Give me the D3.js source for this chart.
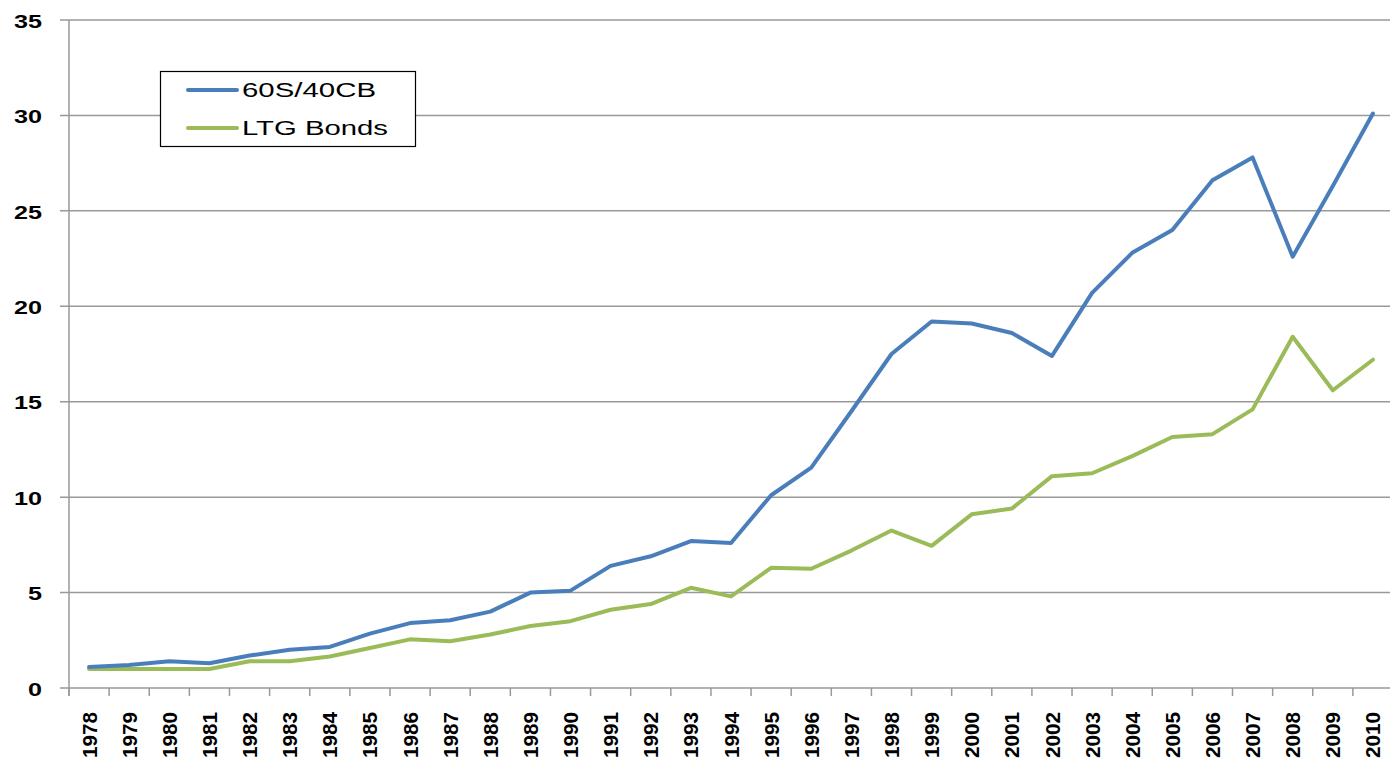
<!DOCTYPE html>
<html><head><meta charset="utf-8">
<script src="https://cdn.jsdelivr.net/npm/d3@7"></script>
<style>body{margin:0;background:#fff}svg{display:block}</style>
</head><body>
<svg id="c" width="1390" height="763"></svg>
<script>
const years = ["1978","1979","1980","1981","1982","1983","1984","1985","1986","1987","1988","1989","1990","1991","1992","1993","1994","1995","1996","1997","1998","1999","2000","2001","2002","2003","2004","2005","2006","2007","2008","2009","2010"];
const series1Name = "60S/40CB";
const series1 = [1.1,1.2,1.4,1.3,1.7,2.0,2.15,2.85,3.4,3.55,4.0,5.0,5.1,6.4,6.9,7.7,7.6,10.1,11.55,14.5,17.5,19.2,19.1,18.6,17.4,20.7,22.8,24.0,26.6,27.8,22.6,26.3,30.1];
const series2Name = "LTG Bonds";
const series2 = [1.0,1.0,1.0,1.0,1.4,1.4,1.65,2.1,2.55,2.45,2.8,3.25,3.5,4.1,4.4,5.25,4.8,6.3,6.25,7.2,8.25,7.45,9.1,9.4,11.1,11.25,12.15,13.15,13.3,14.6,18.4,15.6,17.2];
const yTicks = [0,5,10,15,20,25,30,35];

const svg = d3.select("#c");
const L = 69, R = 1393, T = 20, B = 688;
const x = d3.scaleBand().domain(years).range([L, R]).paddingInner(0).paddingOuter(0);
const y = d3.scaleLinear().domain([0,35]).range([B, T]);
const FONT = "Liberation Sans, Arial, sans-serif";

// gridlines
svg.append("g").selectAll("line").data(yTicks).join("line")
  .attr("x1", L-9).attr("x2", 1390)
  .attr("y1", d=>y(d)).attr("y2", d=>y(d))
  .attr("stroke", "#999").attr("stroke-width", 1.5);

// y axis line
svg.append("line").attr("x1", L).attr("x2", L).attr("y1", T).attr("y2", B+8)
  .attr("stroke", "#999").attr("stroke-width", 1.5);

// y labels
svg.append("g").selectAll("text").data(yTicks).join("text")
  .attr("x", 42).attr("y", d=>y(d)+1).attr("dy", "0.36em")
  .attr("text-anchor", "end")
  .attr("font-family", FONT).attr("font-weight", "bold")
  .attr("font-size", 18.5).attr("fill", "#000")
  .attr("textLength", d=>String(d).length*14).attr("lengthAdjust", "spacingAndGlyphs")
  .text(d=>d);

// x tick marks (between categories)
const bounds = years.map(d=>x(d));
svg.append("g").selectAll("line").data(bounds).join("line")
  .attr("x1", d=>d).attr("x2", d=>d).attr("y1", B).attr("y2", B+8)
  .attr("stroke", "#999").attr("stroke-width", 1.5);

// x labels
svg.append("g").selectAll("text").data(years).join("text")
  .attr("transform", d=>`translate(${x(d)+x.bandwidth()/2+0.5},${B+24}) rotate(-90)`)
  .attr("text-anchor", "end").attr("dy", "0.36em")
  .attr("font-family", FONT).attr("font-weight", "bold")
  .attr("font-size", 19.5).attr("fill", "#000")
  .attr("textLength", 46).attr("lengthAdjust", "spacingAndGlyphs")
  .text(d=>d);

const line = d3.line().x((d,i)=>x(years[i])+x.bandwidth()/2).y(d=>y(d));
svg.append("path").datum(series2).attr("d", line).attr("fill","none")
  .attr("stroke", "#9BBB59").attr("stroke-width", 4).attr("stroke-linejoin","round").attr("stroke-linecap","round");
svg.append("path").datum(series1).attr("d", line).attr("fill","none")
  .attr("stroke", "#4A7EBB").attr("stroke-width", 4).attr("stroke-linejoin","round").attr("stroke-linecap","round");

// legend
const lg = svg.append("g");
lg.append("rect").attr("x", 160.5).attr("y", 71.5).attr("width", 255).attr("height", 75)
  .attr("fill", "#fff").attr("stroke", "#000").attr("stroke-width", 1.2);
const items = [[series1Name, "#4A7EBB", 134], [series2Name, "#9BBB59", 146]];
items.forEach((it, i) => {
  const yy = 90 + i*38;
  lg.append("line").attr("x1", 188).attr("x2", 237).attr("y1", yy).attr("y2", yy)
    .attr("stroke", it[1]).attr("stroke-width", 4).attr("stroke-linecap","round");
  lg.append("text").attr("x", 242).attr("y", yy).attr("dy", "0.36em")
    .attr("font-family", FONT).attr("font-size", 19.5)
    .attr("textLength", it[2]).attr("lengthAdjust", "spacingAndGlyphs")
    .attr("fill", "#000").text(it[0]);
});
</script>
</body></html>
